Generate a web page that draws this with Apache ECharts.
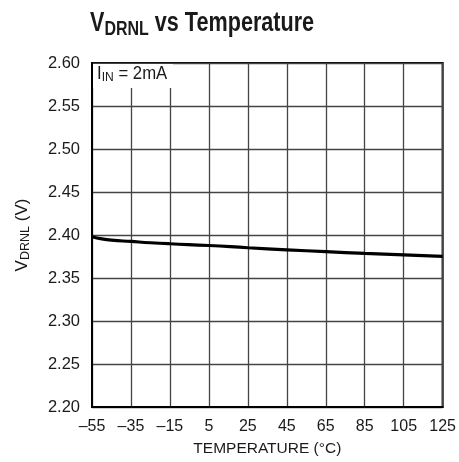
<!DOCTYPE html>
<html><head><meta charset="utf-8">
<script src="https://cdn.jsdelivr.net/npm/echarts@6/dist/echarts.min.js"></script>
<style>html,body{margin:0;padding:0;background:#fff}#c{width:459px;height:462px}</style>
</head><body><div id="c"></div>
<script>
var temperatures = [-55, -50, -45, -35, -25, -15, 5, 25, 45, 65, 85, 105, 125];
var vdrnl = [2.398, 2.3955, 2.394, 2.3925, 2.391, 2.3898, 2.3878, 2.3852, 2.3828, 2.3806, 2.3786, 2.3768, 2.3752];
var xTicks = [-55, -35, -15, 5, 25, 45, 65, 85, 105, 125];
var yTicks = ["2.20","2.25","2.30","2.35","2.40","2.45","2.50","2.55","2.60"];
var X0 = -55;
var FONT = '"Liberation Sans", Arial, sans-serif';

var chart = echarts.init(document.getElementById('c'), null, {renderer: 'canvas'});
var seriesData = temperatures.map(function (t, i) { return [t - X0, vdrnl[i]]; });
chart.setOption({
  animation: false,
  backgroundColor: '#fff',
  grid: {left: 92, right: 16, top: 63, bottom: 55, show: true, borderColor: '#000', borderWidth: 2, backgroundColor: 'transparent'},
  xAxis: {
    type: 'value', min: 0, max: 180, interval: 20,
    name: 'TEMPERATURE (°C)', nameLocation: 'middle', nameGap: 34,
    nameTextStyle: {fontFamily: FONT, fontSize: 15.5, color: '#1a1a1a'},
    axisLine: {show: true, lineStyle: {color: '#000', width: 2}},
    axisTick: {show: false},
    splitLine: {show: true, lineStyle: {color: '#444', width: 1.3}},
    axisLabel: {fontFamily: FONT, fontSize: 16, color: '#1a1a1a', margin: 12,
      formatter: function (v) { var t = Math.round(v + X0); return t < 0 ? '\u2013' + (-t) : String(t); }}
  },
  yAxis: {
    type: 'value', min: 2.2, max: 2.6, interval: 0.05,
    name: '{n|V}{s|DRNL}{n| (V)}', nameLocation: 'middle', nameGap: 60, nameRotate: 90,
    nameTextStyle: {rich: {
      n: {fontFamily: FONT, fontSize: 17, color: '#1a1a1a'},
      s: {fontFamily: FONT, fontSize: 12.5, color: '#1a1a1a', verticalAlign: 'bottom', padding: [6, 0, 0, 0]}
    }},
    axisLine: {show: true, lineStyle: {color: '#000', width: 2}},
    axisTick: {show: false},
    splitLine: {show: true, lineStyle: {color: '#444', width: 1.3}},
    axisLabel: {fontFamily: FONT, fontSize: 16.5, color: '#1a1a1a', margin: 12,
      formatter: function (v) { return v.toFixed(2); }}
  },
  graphic: [
    {type: 'text', x: 90, y: 9, scaleX: 0.8, z: 60, style: {
      text: '{b|V}{s|DRNL}{b| vs Temperature}',
      rich: {
        b: {fontFamily: FONT, fontWeight: 'bold', fontSize: 27, fill: '#1a1a1a'},
        s: {fontFamily: FONT, fontWeight: 'bold', fontSize: 20, fill: '#1a1a1a', verticalAlign: 'bottom', padding: [10, 0, 0, 0]}
      }
    }},
    {type: 'rect', left: 93, top: 64, z: 50, shape: {width: 80, height: 24}, style: {fill: '#fff'}},
    {type: 'text', x: 97, y: 65, scaleX: 0.93, z: 51, style: {
      text: '{n|I}{s|IN}{n| = 2mA}',
      rich: {
        n: {fontFamily: FONT, fontSize: 18, fill: '#1a1a1a'},
        s: {fontFamily: FONT, fontSize: 13, fill: '#1a1a1a', verticalAlign: 'bottom', padding: [6, 0, 0, 0]}
      }
    }}
  ],
  series: [{
    type: 'line', data: seriesData, smooth: true, symbol: 'none',
    lineStyle: {color: '#000', width: 3.2}, z: 10
  }]
});
</script></body></html>
